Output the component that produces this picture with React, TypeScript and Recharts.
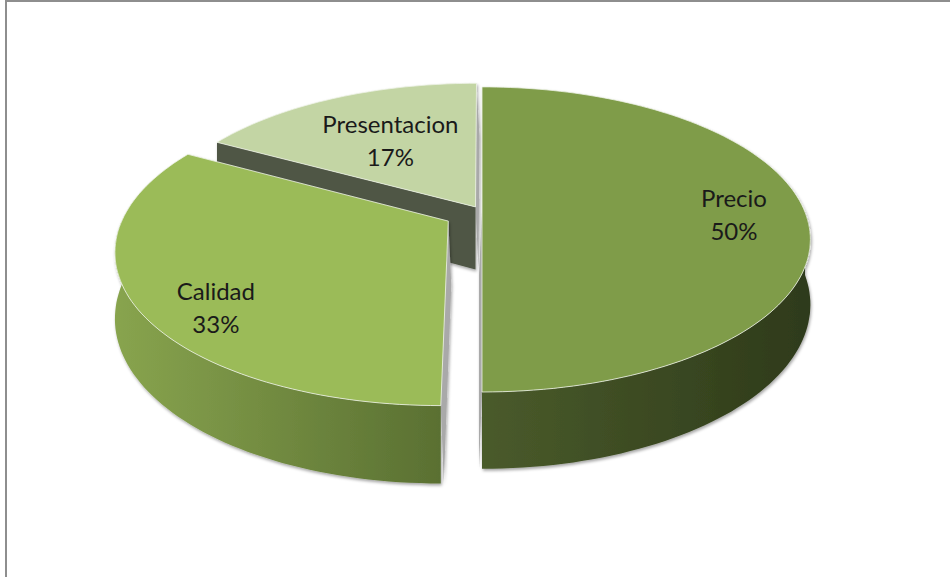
import React from 'react'
import { PieChart, Pie } from 'recharts'

// values; drawn counter-clockwise from 12 o'clock so the far slice paints first
const CATEGORIES = ['Presentacion', 'Calidad', 'Precio']
const VALUES = [17, 33, 50]

const data = CATEGORIES.map((name, i) => ({ name, value: VALUES[i] }))

// fake-3D projection settings
const TILT = 0.457    // ry / rx
const PERSP = 0.18    // far side shrinks, near side grows
const DEPTH = 63      // thickness of the disc
const STRIP = '#a9a9a9'

const SLICE_STYLE: Record<string, any> = {
  Precio:       { top: '#7f9c4a', wallA: '#4a5b2b', wallB: '#2e3a1a', radial: '#3b4a22', explode: 0,    labelR: 0.78, labelDy: 1 },
  Calidad:      { top: '#9bbb59', wallA: '#88a44e', wallB: '#5a7032', radial: '#6d8a3c', explode: 0.12, labelR: 0.76, labelDy: 23 },
  Presentacion: { top: '#c3d5a4', wallA: '#4f5645', wallB: '#4f5645', radial: '#4f5645', explode: 0.04, labelR: 0.57, labelDy: -2 },
}

const rad = (d: number) => (d * Math.PI) / 180

function renderSlice(props: any) {
  const { cx, cy, outerRadius, startAngle, endAngle, payload, percent, index } = props
  const name = payload?.name ?? props.name
  const st = SLICE_STYLE[name]
  const rx = outerRadius
  const ry = outerRadius * TILT
  const lo = Math.min(startAngle, endAngle)
  const hi = Math.max(startAngle, endAngle)
  const mid = (lo + hi) / 2
  const ox = st.explode * Math.cos(rad(mid))
  const oz = st.explode * Math.sin(rad(mid))

  const proj = (X: number, Z: number, drop = 0, shift = 0): [number, number] => {
    const s = 1 / (1 + PERSP * Z)
    return [cx + rx * X * s + shift, cy - ry * Z * s + drop * s]
  }
  const rim = (a: number, drop = 0, shift = 0) => proj(ox + Math.cos(rad(a)), oz + Math.sin(rad(a)), drop, shift)
  const arc = (a0: number, a1: number, drop = 0) => {
    const n = Math.max(2, Math.ceil((a1 - a0) / 1.5))
    const pts: [number, number][] = []
    for (let i = 0; i <= n; i++) pts.push(rim(a0 + ((a1 - a0) * i) / n, drop))
    return pts
  }
  const toPath = (pts: [number, number][]) =>
    pts.map((p, i) => `${i ? 'L' : 'M'}${p[0].toFixed(1)},${p[1].toFixed(1)}`).join(' ') + ' Z'

  const center = proj(ox, oz)
  const centerB = (shift: number) => proj(ox, oz, DEPTH, shift)

  // radial walls that face the viewer (camera sits a little left of centre)
  const radialWalls: React.ReactNode[] = []
  ;[
    { a: lo, n: lo - 90 },
    { a: hi, n: hi + 90 },
  ].forEach(({ a, n }, k) => {
    const sn = Math.sin(rad(n))
    if (sn > 0.05) return
    const sideways = Math.abs(sn) <= 0.05
    if (sideways && Math.cos(rad(n)) < 0 && Math.sin(rad(a)) > 0) return
    const shift = sideways ? 3 * Math.cos(rad(n)) : 0
    const pts: [number, number][] = [center, rim(a), rim(a, DEPTH, shift), centerB(shift)]
    radialWalls.push(<path key={`r${k}`} d={toPath(pts)} fill={sideways ? STRIP : st.radial} />)
  })

  // outer wall, front half only
  const w0 = Math.max(lo, 180)
  const w1 = Math.min(hi, 360)
  let wall: React.ReactNode = null
  if (w1 > w0) {
    const pts = [...arc(w0, w1), ...arc(w0, w1, DEPTH).reverse()]
    wall = <path d={toPath(pts)} fill={`url(#wall-${index})`} />
  }

  const face = toPath([center, ...arc(lo, hi)])

  const lr = st.labelR
  const [lx, ly0] = proj(ox + lr * Math.cos(rad(mid)), oz + lr * Math.sin(rad(mid)))
  const ly = ly0 + st.labelDy

  return (
    <g key={`slice-${index}`}>
      <defs>
        <linearGradient id={`wall-${index}`} x1="0" y1="0" x2="1" y2="0">
          <stop offset="0%" stopColor={st.wallA} />
          <stop offset="100%" stopColor={st.wallB} />
        </linearGradient>
        <filter id={`shadow-${index}`} x="-10%" y="-10%" width="120%" height="130%">
          <feDropShadow dx="1" dy="2" stdDeviation="1.6" floodColor="#000" floodOpacity="0.35" />
        </filter>
      </defs>
      <g filter={`url(#shadow-${index})`}>
        {radialWalls}
        {wall}
        <path d={face} fill={st.top} stroke="#eef2e6" strokeWidth={1} strokeOpacity={0.8} />
      </g>
      <text x={lx} y={ly - 16} textAnchor="middle" dominantBaseline="central"
        fontFamily="Lato, 'Open Sans', sans-serif" fontSize={24} fill="#1a1a1a">{name}</text>
      <text x={lx} y={ly + 17} textAnchor="middle" dominantBaseline="central"
        fontFamily="Lato, 'Open Sans', sans-serif" fontSize={24} fill="#1a1a1a">{`${Math.round(percent * 100)}%`}</text>
    </g>
  )
}

export default function App() {
  return (
    <div style={{ position: 'absolute', left: 0, top: 0, width: 950, height: 577, background: '#fff', overflow: 'hidden' }}>
      <div style={{ position: 'absolute', left: 5, top: 0, width: 945, height: 577, borderTop: '2px solid #8e8e8e', borderLeft: '2px solid #8e8e8e', boxSizing: 'border-box' }} />
      <div style={{ position: 'absolute', left: 0, top: 0 }}>
        <PieChart width={950} height={577} margin={{ top: 0, right: 0, bottom: 0, left: 0 }}>
          <Pie
            data={data}
            dataKey="value"
            nameKey="name"
            cx={482}
            cy={212}
            outerRadius={323}
            startAngle={90}
            endAngle={450}
            fill="none"
            stroke="none"
            label={renderSlice}
            labelLine={false}
            isAnimationActive={false}
          />
        </PieChart>
      </div>
    </div>
  )
}
